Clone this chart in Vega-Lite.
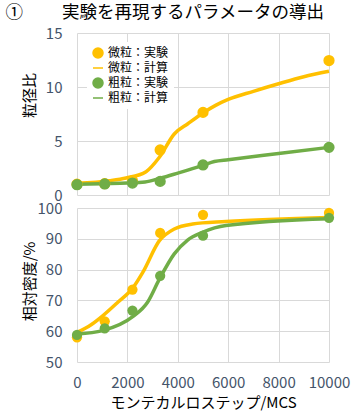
{
  "$schema": "https://vega.github.io/schema/vega-lite/v6.json",
  "background": "white",
  "padding": {"left": 5, "top": 3, "right": 5, "bottom": 5},
  "title": {
    "text": "①　　 実験を再現するパラメータの導出",
    "anchor": "start",
    "fontSize": 17.5,
    "fontWeight": "normal",
    "font": "Noto Sans CJK JP",
    "color": "#000000",
    "offset": 5,
    "dx": -17
  },
  "config": {
    "font": "Noto Sans CJK JP",
    "view": {"stroke": null},
    "axis": {
      "domain": false,
      "ticks": false,
      "grid": true,
      "gridColor": "#d9d9d9",
      "gridWidth": 1,
      "labelFont": "Noto Sans CJK JP",
      "labelFontSize": 15,
      "labelColor": "#44546a",
      "titleFont": "Noto Sans CJK JP",
      "titleFontSize": 15,
      "titleFontWeight": "normal",
      "titleColor": "#000000"
    }
  },
  "datasets": {
    "size_exp": [
      {"s": "微粒：実験", "x": 0, "y": 1.0},
      {"s": "微粒：実験", "x": 1100, "y": 1.05},
      {"s": "微粒：実験", "x": 2200, "y": 1.33},
      {"s": "微粒：実験", "x": 3300, "y": 4.17},
      {"s": "微粒：実験", "x": 5000, "y": 7.65},
      {"s": "微粒：実験", "x": 10000, "y": 12.45},
      {"s": "粗粒：実験", "x": 0, "y": 0.95},
      {"s": "粗粒：実験", "x": 1100, "y": 1.02},
      {"s": "粗粒：実験", "x": 2200, "y": 1.11},
      {"s": "粗粒：実験", "x": 3300, "y": 1.26},
      {"s": "粗粒：実験", "x": 5000, "y": 2.78},
      {"s": "粗粒：実験", "x": 10000, "y": 4.41}
    ],
    "size_calc": [
      {"s": "微粒：計算", "x": 0, "y": 1.08},
      {"s": "微粒：計算", "x": 1290, "y": 1.33},
      {"s": "微粒：計算", "x": 1950, "y": 1.58},
      {"s": "微粒：計算", "x": 2740, "y": 2.16},
      {"s": "微粒：計算", "x": 3270, "y": 3.5},
      {"s": "微粒：計算", "x": 3860, "y": 5.65},
      {"s": "微粒：計算", "x": 4400, "y": 6.6},
      {"s": "微粒：計算", "x": 5000, "y": 7.6},
      {"s": "微粒：計算", "x": 5500, "y": 8.3},
      {"s": "微粒：計算", "x": 6000, "y": 8.85},
      {"s": "微粒：計算", "x": 7000, "y": 9.6},
      {"s": "微粒：計算", "x": 8000, "y": 10.3},
      {"s": "微粒：計算", "x": 9000, "y": 10.95},
      {"s": "微粒：計算", "x": 10000, "y": 11.45},
      {"s": "粗粒：計算", "x": 0, "y": 1.0},
      {"s": "粗粒：計算", "x": 1000, "y": 1.05},
      {"s": "粗粒：計算", "x": 2000, "y": 1.1},
      {"s": "粗粒：計算", "x": 2700, "y": 1.2},
      {"s": "粗粒：計算", "x": 3300, "y": 1.55},
      {"s": "粗粒：計算", "x": 4000, "y": 2.03},
      {"s": "粗粒：計算", "x": 5000, "y": 2.75},
      {"s": "粗粒：計算", "x": 5450, "y": 3.1},
      {"s": "粗粒：計算", "x": 6000, "y": 3.27},
      {"s": "粗粒：計算", "x": 8000, "y": 3.84},
      {"s": "粗粒：計算", "x": 10000, "y": 4.41}
    ],
    "dens_exp": [
      {"s": "微粒：実験", "x": 0, "y": 58.0},
      {"s": "微粒：実験", "x": 1100, "y": 63.2},
      {"s": "微粒：実験", "x": 2200, "y": 73.5},
      {"s": "微粒：実験", "x": 3300, "y": 91.9},
      {"s": "微粒：実験", "x": 5000, "y": 97.8},
      {"s": "微粒：実験", "x": 10000, "y": 98.4},
      {"s": "粗粒：実験", "x": 0, "y": 58.8},
      {"s": "粗粒：実験", "x": 1100, "y": 60.9},
      {"s": "粗粒：実験", "x": 2200, "y": 66.7},
      {"s": "粗粒：実験", "x": 3300, "y": 78.0},
      {"s": "粗粒：実験", "x": 5000, "y": 91.0},
      {"s": "粗粒：実験", "x": 10000, "y": 96.8}
    ],
    "dens_calc": [
      {"s": "微粒：計算", "x": 0, "y": 59.6},
      {"s": "微粒：計算", "x": 560, "y": 62.1},
      {"s": "微粒：計算", "x": 1020, "y": 65.0},
      {"s": "微粒：計算", "x": 1620, "y": 69.4},
      {"s": "微粒：計算", "x": 2210, "y": 74.0},
      {"s": "微粒：計算", "x": 2610, "y": 79.1},
      {"s": "微粒：計算", "x": 3270, "y": 89.4},
      {"s": "微粒：計算", "x": 3860, "y": 93.2},
      {"s": "微粒：計算", "x": 4590, "y": 94.8},
      {"s": "微粒：計算", "x": 5910, "y": 95.6},
      {"s": "微粒：計算", "x": 10000, "y": 96.9},
      {"s": "粗粒：計算", "x": 0, "y": 59.1},
      {"s": "粗粒：計算", "x": 1020, "y": 60.2},
      {"s": "粗粒：計算", "x": 2210, "y": 64.7},
      {"s": "粗粒：計算", "x": 2800, "y": 69.4},
      {"s": "粗粒：計算", "x": 3270, "y": 76.9},
      {"s": "粗粒：計算", "x": 3860, "y": 85.1},
      {"s": "粗粒：計算", "x": 4390, "y": 89.6},
      {"s": "粗粒：計算", "x": 4980, "y": 92.1},
      {"s": "粗粒：計算", "x": 5910, "y": 94.3},
      {"s": "粗粒：計算", "x": 10000, "y": 96.5}
    ]
  },
  "resolve": {"scale": {"color": "independent", "fill": "independent", "shape": "independent", "x": "independent", "y": "independent"}, "legend": {"color": "independent", "fill": "independent", "shape": "independent"}},
  "bounds": "flush",
  "spacing": 13,
  "vconcat": [
    {
      "width": 252,
      "height": 162,
      "encoding": {
        "x": {"field": "x", "type": "quantitative", "scale": {"domain": [0, 10000], "nice": false},
          "axis": {"values": [0, 2000, 4000, 6000, 8000, 10000], "labels": false, "title": null}},
        "y": {"field": "y", "type": "quantitative", "scale": {"domain": [0, 15], "nice": false},
          "axis": {"values": [0, 5, 10, 15], "title": "粒径比", "labelPadding": 15, "titleX": -47.5, "titleY": 62, "titleBaseline": "middle", "titleAngle": -90}},
        "color": {"field": "s", "type": "nominal",
          "scale": {"domain": ["微粒：実験", "微粒：計算", "粗粒：実験", "粗粒：計算"], "range": ["#FFC000", "#FFC000", "#70AD47", "#70AD47"]},
          "legend": {
            "orient": "none", "legendX": 10, "legendY": 9, "title": null,
            "fillColor": "white", "padding": 5,
            "labelFontSize": 12, "labelColor": "#000000", "labelOffset": 4,
            "symbolSize": 100, "rowPadding": 1, "symbolStrokeWidth": 1.5,
            "values": ["微粒：実験", "微粒：計算", "粗粒：実験", "粗粒：計算"]
          }}
      },
      "layer": [
        {"data": {"name": "size_calc"}, "mark": {"type": "line", "interpolate": "monotone", "strokeWidth": 3.5}},
        {"data": {"name": "size_exp"}, "mark": {"type": "point", "filled": false, "size": 95, "strokeWidth": 1.5, "opacity": 1},
          "encoding": {
            "fill": {"field": "s", "type": "nominal",
              "scale": {"domain": ["微粒：実験", "微粒：計算", "粗粒：実験", "粗粒：計算"], "range": ["#FFC000", "#FFC000", "#70AD47", "#70AD47"]},
              "legend": {
                "orient": "none", "legendX": 10, "legendY": 9, "title": null,
                "fillColor": "white", "padding": 5,
                "labelFontSize": 12, "labelColor": "#000000", "labelOffset": 4,
                "symbolSize": 100, "rowPadding": 1, "symbolStrokeWidth": 1.5,
                "values": ["微粒：実験", "微粒：計算", "粗粒：実験", "粗粒：計算"]
              }},
            "shape": {"field": "s", "type": "nominal",
              "scale": {"domain": ["微粒：実験", "微粒：計算", "粗粒：実験", "粗粒：計算"], "range": ["circle", "stroke", "circle", "stroke"]},
              "legend": {
                "orient": "none", "legendX": 10, "legendY": 9, "title": null,
                "fillColor": "white", "padding": 5,
                "labelFontSize": 12, "labelColor": "#000000", "labelOffset": 4,
                "symbolSize": 100, "rowPadding": 1, "symbolStrokeWidth": 1.5,
                "values": ["微粒：実験", "微粒：計算", "粗粒：実験", "粗粒：計算"]
              }}
          }}
      ]
    },
    {
      "width": 252,
      "height": 154,
      "encoding": {
        "x": {"field": "x", "type": "quantitative", "scale": {"domain": [0, 10000], "nice": false},
          "axis": {"values": [0, 2000, 4000, 6000, 8000, 10000], "format": "d", "labelFlush": false, "labelPadding": 13, "title": "モンテカルロステップ/MCS", "titlePadding": 5}},
        "y": {"field": "y", "type": "quantitative", "scale": {"domain": [50, 100], "nice": false},
          "axis": {"values": [50, 60, 70, 80, 90, 100], "title": "相対密度/%", "labelPadding": 15, "titleX": -47.5, "titleY": 73, "titleBaseline": "middle", "titleAngle": -90}},
        "color": {"field": "s", "type": "nominal",
          "scale": {"domain": ["微粒：実験", "微粒：計算", "粗粒：実験", "粗粒：計算"], "range": ["#FFC000", "#FFC000", "#70AD47", "#70AD47"]},
          "legend": null}
      },
      "layer": [
        {"data": {"name": "dens_calc"}, "mark": {"type": "line", "interpolate": "monotone", "strokeWidth": 3.5}},
        {"data": {"name": "dens_exp"}, "mark": {"type": "point", "filled": true, "size": 105, "opacity": 1}}
      ]
    }
  ]
}
